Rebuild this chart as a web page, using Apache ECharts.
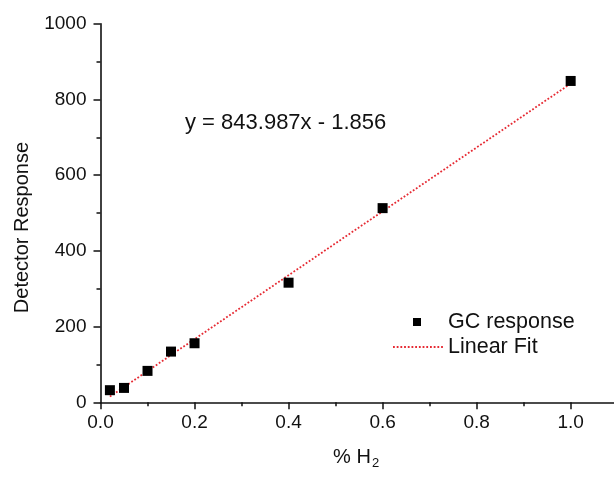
<!DOCTYPE html>
<html>
<head>
<meta charset="utf-8">
<script src="https://cdn.jsdelivr.net/npm/echarts@6/dist/echarts.min.js"></script>
<style>html,body{margin:0;padding:0;background:#fff}#c{width:614px;height:477px}</style>
</head>
<body>
<div id="c"></div>
<script>
// Data
const h2Percent = [0.02, 0.05, 0.10, 0.15, 0.20, 0.40, 0.60, 1.00];
const gcResponse = [32, 38, 83, 134, 156, 316, 513, 849];
const fitX = [0.02, 1.00];
const fitY = [15, 842];
const xTicks = [0, 0.2, 0.4, 0.6, 0.8, 1.0];
const yTicks = [0, 200, 400, 600, 800, 1000];
const equationText = 'y = 843.987x - 1.856';
const seriesNames = ['GC response', 'Linear Fit'];

const FONT = '"Liberation Sans", Arial, sans-serif';
const scatterData = h2Percent.map((x, i) => [x, gcResponse[i]]);
const fitData = fitX.map((x, i) => [x, fitY[i]]);

const chart = echarts.init(document.getElementById('c'));
chart.setOption({
  backgroundColor: '#fff',
  animation: false,
  textStyle: { fontFamily: FONT },
  title: {
    text: equationText,
    left: 185, top: 112, padding: 0,
    textStyle: { fontFamily: FONT, fontSize: 22, fontWeight: 'normal', color: '#111' }
  },
  grid: { left: 100.5, top: 23.8, right: -50.7, bottom: 74.7, containLabel: false, outerBoundsMode: 'none' },
  legend: [
    {
      data: [seriesNames[0]], left: 413, top: 311, padding: 0,
      itemWidth: 8, itemHeight: 8, icon: 'rect',
      itemStyle: { color: '#000', borderWidth: 0, opacity: 1 },
      textStyle: { fontFamily: FONT, fontSize: 21.5, color: '#111', padding: [0, 0, 0, 22] }
    },
    {
      data: [seriesNames[1]], left: 392, top: 336, padding: 0,
      itemWidth: 50, itemHeight: 10,
      itemStyle: { opacity: 0 },
      textStyle: { fontFamily: FONT, fontSize: 21.5, color: '#111' }
    }
  ],
  xAxis: {
    type: 'value', min: 0, max: 1.2, interval: 0.2,
    name: '% H{sub|2}', nameLocation: 'middle', nameGap: 43,
    nameTextStyle: {
      fontFamily: FONT, fontSize: 20, color: '#111', padding: [0, 53, 0, 0],
      rich: { sub: { fontSize: 13, verticalAlign: 'bottom', padding: [12, 0, 0, 1], color: '#111', fontFamily: FONT } }
    },
    axisLine: { onZero: false, lineStyle: { color: '#111', width: 1.6 } },
    axisTick: { length: 7, lineStyle: { color: '#111', width: 1.5 } },
    minorTick: { show: true, splitNumber: 2, length: 4, lineStyle: { color: '#111', width: 1.5 } },
    splitLine: { show: false },
    axisLabel: {
      fontFamily: FONT, fontSize: 19, color: '#111', margin: 11, showMaxLabel: false,
      formatter: v => xTicks.some(t => Math.abs(t - v) < 1e-9) ? v.toFixed(1) : ''
    }
  },
  yAxis: {
    type: 'value', min: 0, max: 1000, interval: 200,
    name: 'Detector Response', nameLocation: 'middle', nameGap: 68, nameRotate: 90,
    nameTextStyle: { fontFamily: FONT, fontSize: 20, color: '#111', padding: [0, 29, 0, 0] },
    axisLine: { onZero: false, lineStyle: { color: '#111', width: 1.6 } },
    axisTick: { length: 7, lineStyle: { color: '#111', width: 1.5 } },
    minorTick: { show: true, splitNumber: 2, length: 4, lineStyle: { color: '#111', width: 1.5 } },
    splitLine: { show: false },
    axisLabel: {
      fontFamily: FONT, fontSize: 19, color: '#111', margin: 14,
      formatter: v => yTicks.includes(v) ? String(v) : ''
    }
  },
  series: [
    {
      name: seriesNames[1], type: 'line', data: fitData, symbol: 'none', z: 2,
      lineStyle: { color: '#e62a33', width: 1.8, type: [1.8, 1.9] },
      itemStyle: { color: '#e62a33' }
    },
    {
      name: seriesNames[0], type: 'scatter', data: scatterData, symbol: 'rect', symbolSize: 10, z: 3,
      itemStyle: { color: '#000', opacity: 1 }
    }
  ]
});
</script>
</body>
</html>
